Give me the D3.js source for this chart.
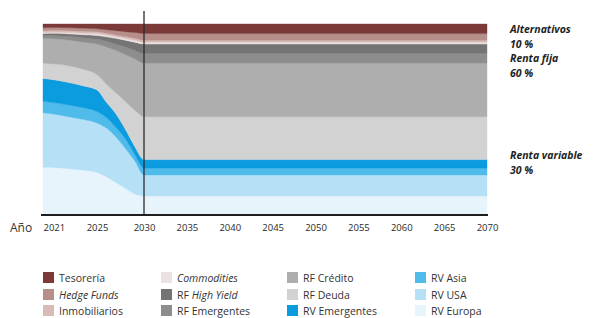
<!DOCTYPE html>
<html lang="es">
<head>
<meta charset="UTF-8">
<title>Glide path</title>
<script src="https://cdn.jsdelivr.net/npm/d3@7"></script>
<style>
    body { margin: 0; background: #fff; }
    svg text { font-family: "Open Sans", sans-serif; }
</style>
</head>
<body>
<script>
    // years with data (annual until 2030, then every five years)
    var years = [2021, 2022, 2023, 2024, 2025, 2026, 2027, 2028, 2029, 2030,
        2035, 2040, 2045, 2050, 2055, 2060, 2065, 2070];
    var tickYears = [2021, 2025, 2030, 2035, 2040, 2045, 2050, 2055, 2060, 2065, 2070];

    // % of portfolio, bottom to top
    var rvEuropa     = [25, 24.8, 24.2, 23.4, 22.3, 20, 17, 14, 11, 10, 10, 10, 10, 10, 10, 10, 10, 10];
    var rvUSA        = [28.5, 27.8, 27.1, 26.6, 25.9, 25.5, 24, 21, 17.5, 11, 11, 11, 11, 11, 11, 11, 11, 11];
    var rvAsia       = [6, 6, 6.2, 6.2, 6, 5.5, 5, 5, 3.5, 3.5, 3.5, 3.5, 3.5, 3.5, 3.5, 3.5, 3.5, 3.5];
    var rvEmergentes = [12, 12, 11.7, 11.4, 11.3, 8, 7, 5, 4, 4.5, 4.5, 4.5, 4.5, 4.5, 4.5, 4.5, 4.5, 4.5];
    var rfDeuda      = [8, 8.4, 8.8, 8.7, 8, 9.5, 11, 14.5, 19, 22.5, 22.5, 22.5, 22.5, 22.5, 22.5, 22.5, 22.5, 22.5];
    var rfCredito    = [13, 13.2, 13.5, 14.2, 16, 19.5, 22.2, 24.5, 26.8, 28, 28, 28, 28, 28, 28, 28, 28, 28];
    var rfEmergentes = [1.5, 1.7, 2, 2.3, 2.5, 3, 3.3, 4, 4.5, 5, 5, 5, 5, 5, 5, 5, 5, 5];
    var rfHighYield  = [1, 1.2, 1.3, 1.6, 2, 2.3, 3, 3.5, 4.2, 5, 5, 5, 5, 5, 5, 5, 5, 5];
    var commodities  = [0.5, 0.6, 0.7, 0.8, 1, 0.9, 0.8, 0.9, 1, 1, 1, 1, 1, 1, 1, 1, 1, 1];
    var inmobiliarios = [1, 1, 1, 1, 1, 1, 1, 1, 1, 1, 1, 1, 1, 1, 1, 1, 1, 1];
    var hedgeFunds   = [1.5, 1.5, 1.5, 1.6, 1.5, 1.8, 2.2, 2.6, 3, 3.5, 3.5, 3.5, 3.5, 3.5, 3.5, 3.5, 3.5, 3.5];
    var tesoreria    = [2, 1.8, 2, 2.2, 2.5, 3, 3.5, 4, 4.5, 5, 5, 5, 5, 5, 5, 5, 5, 5];

    var series = [
        {key: "rvEuropa", label: "RV Europa", values: rvEuropa, color: "#e7f4fc"},
        {key: "rvUSA", label: "RV USA", values: rvUSA, color: "#b6e0f6"},
        {key: "rvAsia", label: "RV Asia", values: rvAsia, color: "#4fbbea"},
        {key: "rvEm", label: "RV Emergentes", values: rvEmergentes, color: "#0b9bdf"},
        {key: "rfDeuda", label: "RF Deuda", values: rfDeuda, color: "#d2d2d2"},
        {key: "rfCredito", label: "RF Crédito", values: rfCredito, color: "#aeaeae"},
        {key: "rfEm", label: "RF Emergentes", values: rfEmergentes, color: "#8d8d8d"},
        {key: "rfHY", label: "RF High Yield", values: rfHighYield, color: "#747474"},
        {key: "comm", label: "Commodities", values: commodities, color: "#ebe1e1"},
        {key: "inmo", label: "Inmobiliarios", values: inmobiliarios, color: "#d8bab7"},
        {key: "hedge", label: "Hedge Funds", values: hedgeFunds, color: "#b68f8b"},
        {key: "teso", label: "Tesorería", values: tesoreria, color: "#7b3a37"}
    ];

    // legend layout: columns of three, top to bottom
    var legendOrder = [
        ["teso", "hedge", "inmo"],
        ["comm", "rfHY", "rfEm"],
        ["rfCredito", "rfDeuda", "rvEm"],
        ["rvAsia", "rvUSA", "rvEuropa"]
    ];

    var w = 597, h = 318;
    var plotLeft = 43, plotRight = 487, plotTop = 24, plotBottom = 215;

    var svg = d3.select("body").append("svg")
        .attr("width", w)
        .attr("height", h);

    // tick positions are evenly spaced from 2030 on, the first two steps are wider
    var step = (plotRight - 144) / 8;
    var tickPos = [plotLeft, 97, 144];
    for (var i = 1; i <= 8; i++) tickPos.push(144 + i * step);

    var x = d3.scaleLinear().domain(tickYears).range(tickPos);
    var y = d3.scaleLinear().domain([0, 100]).range([plotBottom, plotTop]);

    var table = years.map(function (yr, i) {
        var row = {year: yr};
        series.forEach(function (s) { row[s.key] = s.values[i]; });
        return row;
    });

    var stack = d3.stack().keys(series.map(function (s) { return s.key; }));
    var layers = stack(table);

    var area = d3.area()
        .x(function (d) { return x(d.data.year); })
        .y0(function (d) { return y(d[0]); })
        .y1(function (d) { return y(d[1]); })
        .curve(d3.curveMonotoneX);

    svg.selectAll("path.layer")
        .data(layers)
        .enter()
        .append("path")
        .attr("class", "layer")
        .attr("d", area)
        .attr("fill", function (d, i) { return series[i].color; })
        .attr("stroke", function (d, i) { return series[i].color; })
        .attr("stroke-width", 0.4);

    // 2030 marker
    svg.append("line")
        .attr("x1", x(2030)).attr("x2", x(2030))
        .attr("y1", 11).attr("y2", plotBottom)
        .attr("stroke", "#2b2b2b")
        .attr("stroke-width", 1.3);

    var axis = d3.axisBottom(x)
        .tickValues(tickYears)
        .tickSize(0)
        .tickPadding(9)
        .tickFormat(d3.format("d"));

    var gx = svg.append("g")
        .attr("transform", "translate(0," + plotBottom + ")")
        .call(axis);
    gx.select(".domain")
        .attr("stroke", "#1e1e1e")
        .attr("stroke-width", 2)
        .attr("d", "M" + (plotLeft - 2) + ",0H" + (plotRight + 1));
    gx.selectAll(".tick text")
        .attr("font-family", "Open Sans, sans-serif")
        .attr("font-size", "9.5px")
        .attr("fill", "#2a2a2a")
        .attr("text-anchor", function (d) { return d === 2021 ? "start" : "middle"; });

    svg.append("text")
        .attr("x", 10)
        .attr("y", 232)
        .attr("font-size", "12px")
        .attr("fill", "#333")
        .text("Año");

    // group labels on the right, two lines each
    var groups = [
        {name: "Alternativos", pct: "10 %", y: 33},
        {name: "Renta fija", pct: "60 %", y: 62},
        {name: "Renta variable", pct: "30 %", y: 159}
    ];
    var gl = svg.selectAll("text.grp")
        .data(groups)
        .enter()
        .append("text")
        .attr("class", "grp")
        .attr("x", 510)
        .attr("y", function (d) { return d.y; })
        .attr("font-size", "10.5px")
        .attr("font-weight", "bold")
        .attr("font-style", "italic")
        .attr("fill", "#1e1e1e");
    gl.append("tspan")
        .text(function (d) { return d.name; });
    gl.append("tspan")
        .attr("x", 510)
        .attr("dy", 14.5)
        .text(function (d) { return d.pct; });

    // legend
    var byKey = {};
    series.forEach(function (s) { byKey[s.key] = s; });
    var colX = [43, 161, 287, 415];
    var rowY = [278, 295, 311];

    legendOrder.forEach(function (col, ci) {
        col.forEach(function (k, ri) {
            var s = byKey[k];
            var g = svg.append("g")
                .attr("transform", "translate(" + colX[ci] + "," + rowY[ri] + ")");
            g.append("rect")
                .attr("x", 0).attr("y", -6)
                .attr("width", 11).attr("height", 11)
                .attr("fill", s.color);
            var t = g.append("text")
                .attr("x", 16)
                .attr("y", 4)
                .attr("font-size", "10.5px")
                .attr("fill", "#333");
            if (k === "rfHY") {
                t.append("tspan").text("RF ");
                t.append("tspan").attr("font-style", "italic").text("High Yield");
            } else if (k === "comm" || k === "hedge") {
                t.attr("font-style", "italic").text(s.label);
            } else {
                t.text(s.label);
            }
        });
    });
</script>
</body>
</html>
